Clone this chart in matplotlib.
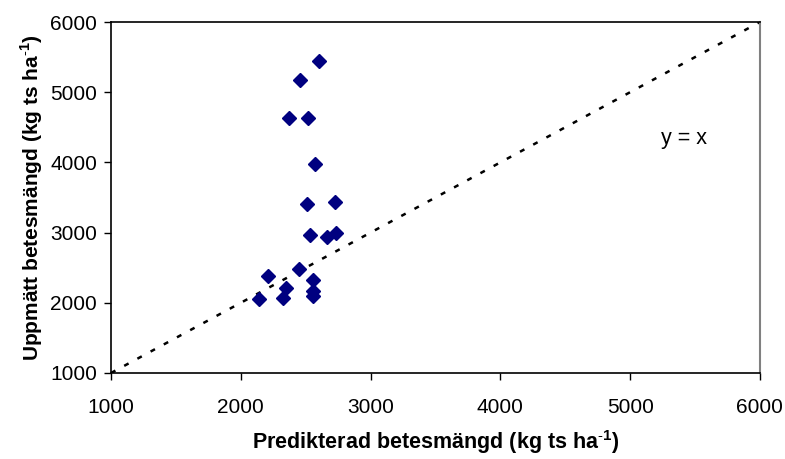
import matplotlib
matplotlib.use("Agg")
import matplotlib.pyplot as plt

plt.rcParams["font.family"] = ["Liberation Sans", "DejaVu Sans"]
plt.rcParams["mathtext.fontset"] = "custom"
plt.rcParams["mathtext.rm"] = "Liberation Sans"
plt.rcParams["mathtext.bf"] = "Liberation Sans:bold"

# predicted vs measured pasture mass, kg dry matter per ha
predicted = [2600, 2460, 2370, 2515, 2575, 2508, 2728, 2534, 2661, 2733,
             2452, 2208, 2554, 2349, 2323, 2554, 2554, 2144]
measured = [5450, 5175, 4635, 4635, 3975, 3408, 3441, 2969, 2936, 2993,
            2487, 2378, 2320, 2214, 2072, 2161, 2091, 2048]

ref_line = [1000, 6000]
ticks = [1000, 2000, 3000, 4000, 5000, 6000]

fig = plt.figure(figsize=(7.85, 4.59), dpi=100)
ax = fig.add_axes([0.1414, 0.1874, 0.8266, 0.7646])

ax.plot(ref_line, ref_line, color="black", lw=1.8,
        linestyle=(0, (2, 4)), zorder=2)
ax.plot(predicted, measured, linestyle="none", marker="D", ms=7.5,
        color="#000080", mec="#000080", zorder=3)

ax.text(5240, 4340, "y = x", fontsize=15.5, ha="left", va="center")

ax.set_xlim(1000, 6000)
ax.set_ylim(1000, 6000)
ax.set_xticks(ticks)
ax.set_yticks(ticks)
ax.tick_params(direction="out", length=5, width=1, labelsize=15)
ax.tick_params(axis="x", pad=13)
ax.tick_params(axis="y", pad=5)

for s in ("left", "bottom", "top"):
    ax.spines[s].set_color("black")
    ax.spines[s].set_linewidth(1.2)
ax.spines["right"].set_color("#808080")
ax.spines["right"].set_linewidth(1.5)

sup = r"$^{\mathbf{\text{-}1}}$"
ax.set_xlabel("Predikterad betesmängd (kg ts ha" + sup + ")",
              fontsize=15.5, fontweight="bold", labelpad=8)
ax.set_ylabel("Uppmätt betesmängd (kg ts ha" + sup + ")",
              fontsize=15, fontweight="bold", labelpad=4)

fig.savefig("out.png", dpi=100)
